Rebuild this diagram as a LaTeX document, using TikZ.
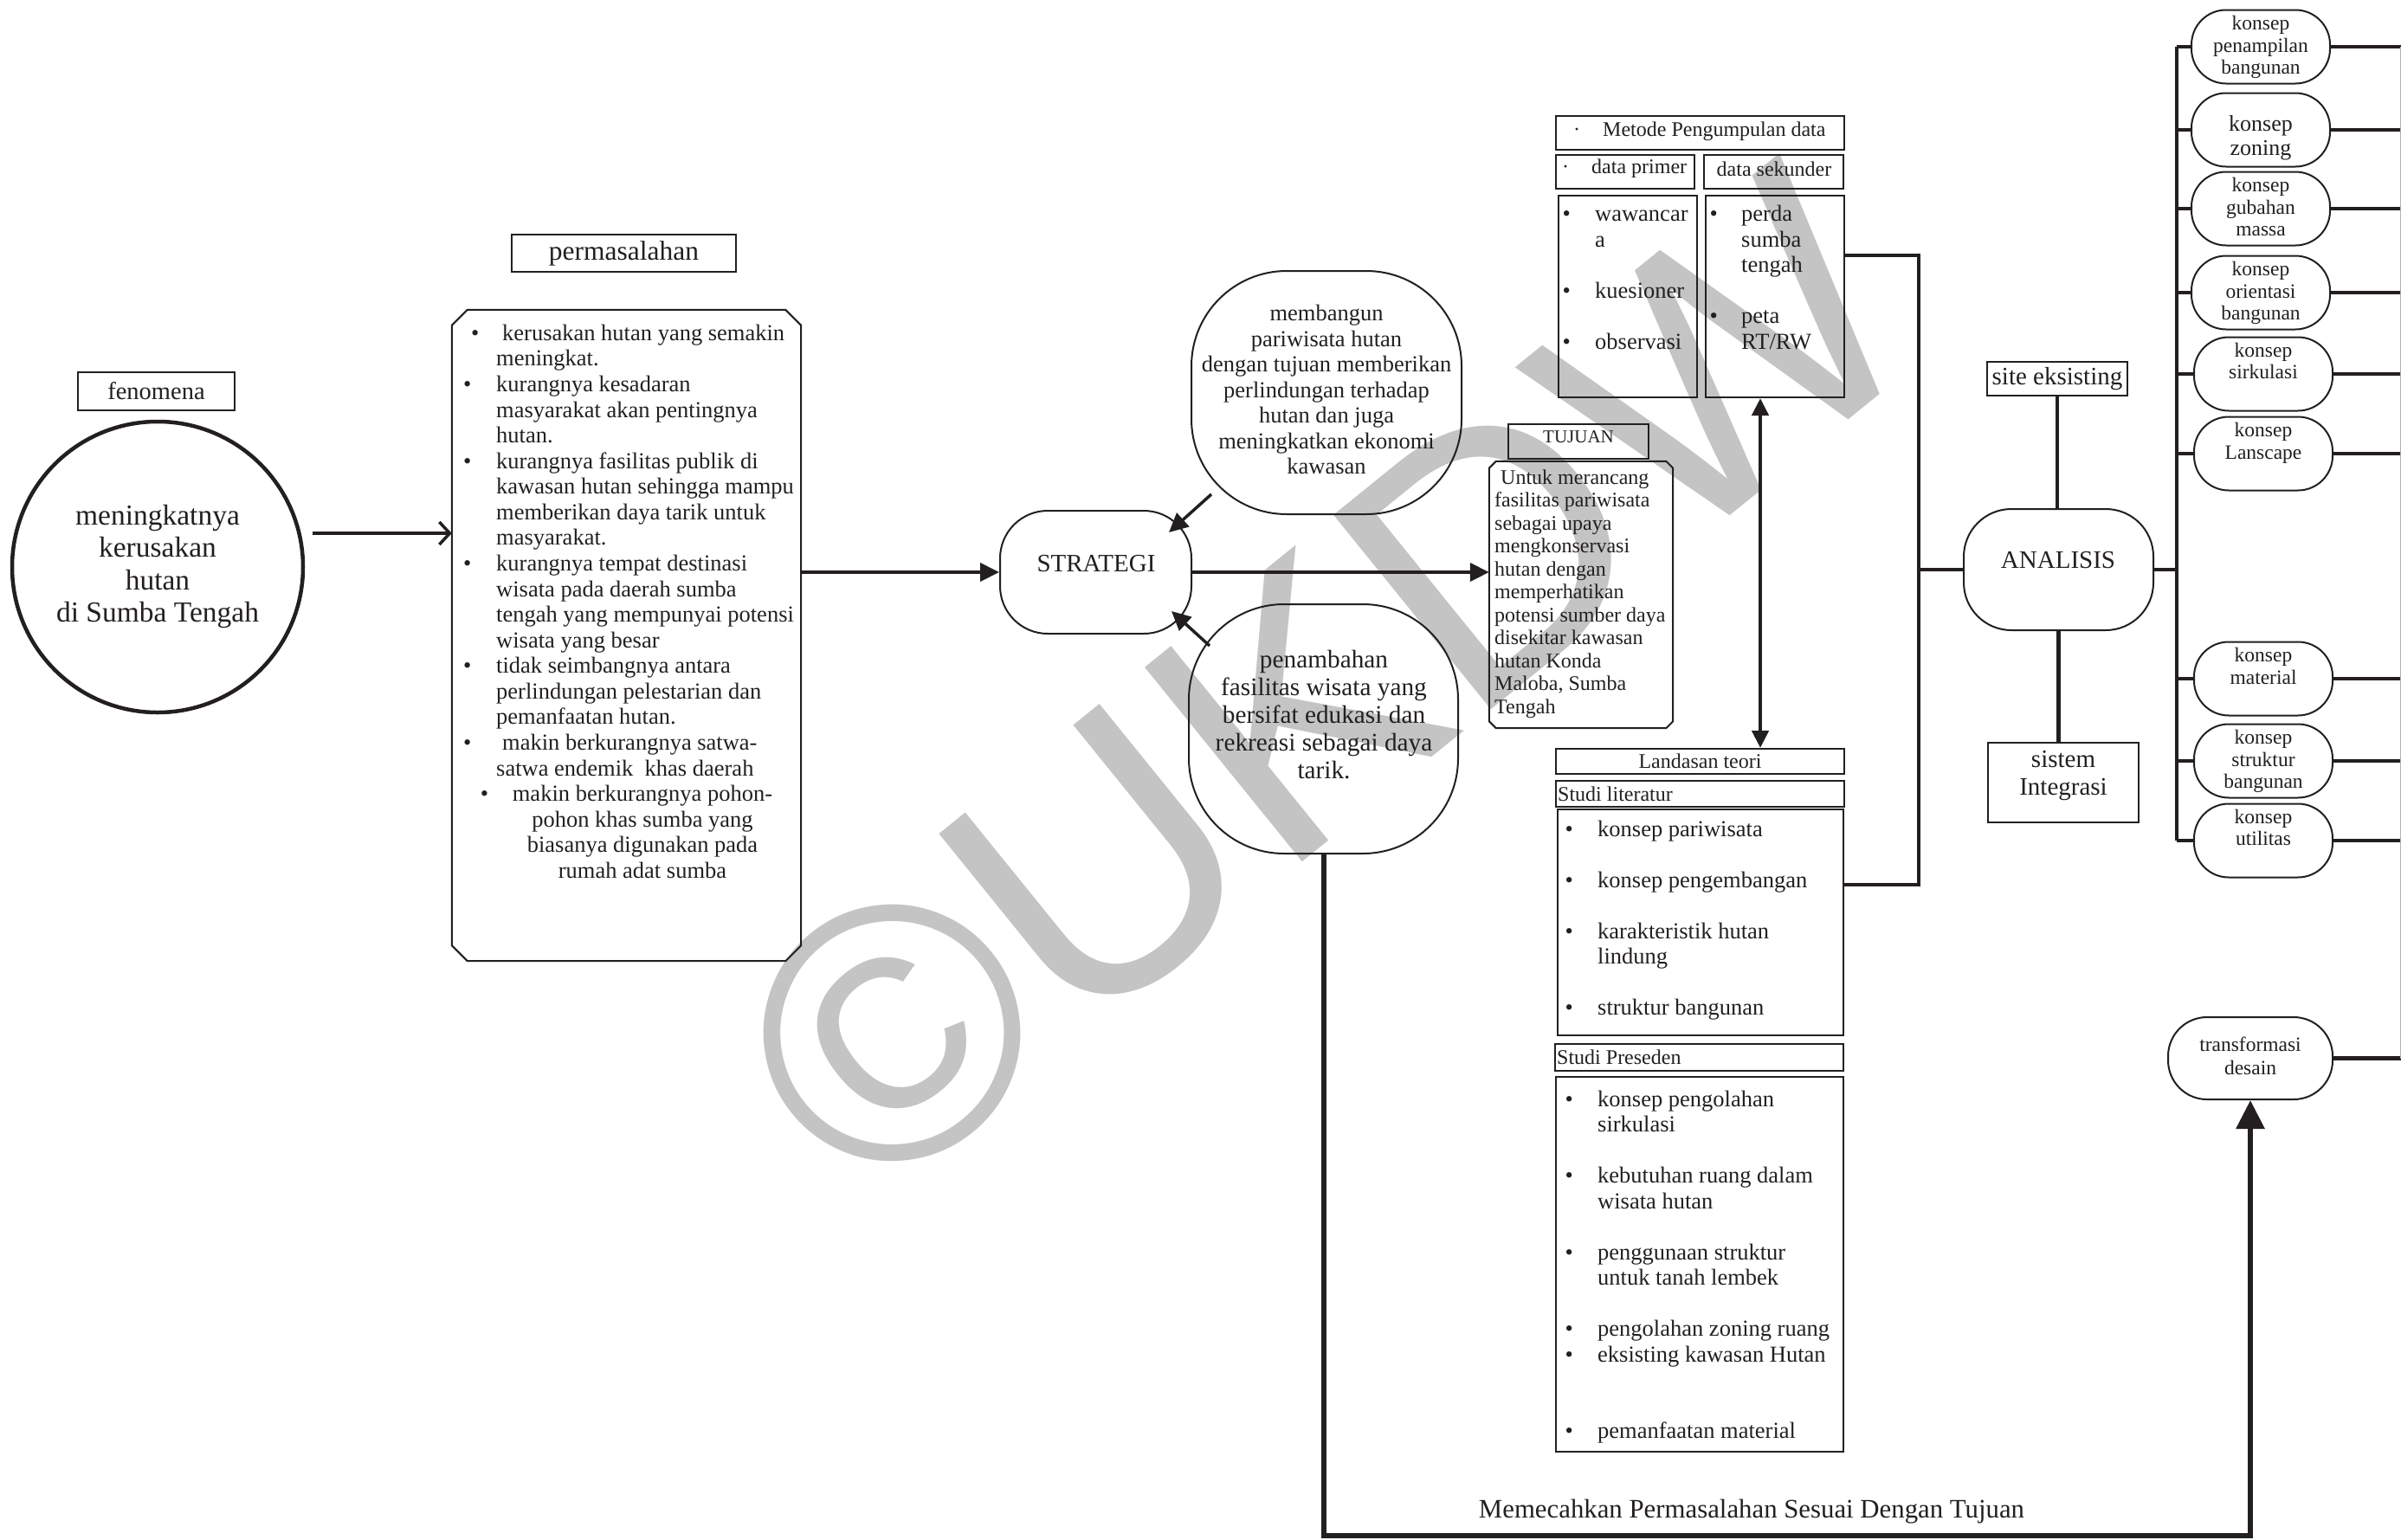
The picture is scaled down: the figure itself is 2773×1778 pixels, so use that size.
\documentclass[tikz,border=0pt]{standalone}
\usepackage{fontspec}
\setmainfont{Liberation Serif}
\newfontfamily\wmfont{Liberation Sans}
\usetikzlibrary{arrows.meta,calc}
\newcommand\fs[2]{\fontsize{#1}{#2}\selectfont}
\newcommand\bul[1][37.6pt]{\makebox[#1][l]{\textbullet}}
\newcommand\hind[1][37.6pt]{\hspace*{#1}}
\definecolor{ink}{RGB}{35,31,32}
\definecolor{wm}{RGB}{196,196,196}
\newcommand\chambox[2]{%
  \draw[draw=ink,line width=2pt] ([xshift=#2pt]#1.north west) -- ([xshift=-#2pt]#1.north east) -- ([yshift=-#2pt]#1.north east) -- ([yshift=#2pt]#1.south east) -- ([xshift=-#2pt]#1.south east) -- ([xshift=#2pt]#1.south west) -- ([yshift=#2pt]#1.south west) -- ([yshift=-#2pt]#1.north west) -- cycle;}
\begin{document}
\begin{tikzpicture}[x=1pt,y=-1pt,
  wh/.style 2 args={minimum width=#1pt,minimum height=#2pt},
  box/.style={draw=ink,line width=2pt,inner sep=0pt,rectangle,text=ink},
  rbox/.style={draw=ink,line width=2pt,inner sep=0pt,rectangle,rounded corners=#1},
  txt/.style={inner sep=0pt,text=ink},
  heavy/.style={draw=ink,line width=4.5pt},
  tri/.style={-{Triangle[length=22pt,width=21pt]}},
]
\useasboundingbox (0,0) rectangle (2773,1778);
% watermark
\node[font=\wmfont\fontsize{420}{420}\selectfont,text=wm,rotate=39,inner sep=0pt] (wmk) at (1529,790) {©UKDW};

% fenomena
\node[box,wh={181}{44},font=\fs{28.5}{32}] (fen) at (180.5,452) {fenomena};
\node[circle,draw=ink,line width=4.5pt,minimum size=336pt,inner sep=0pt,align=center,text=ink,font=\fs{33.5}{37.6}] (circ) at (182,655) {\strut meningkatnya\\kerusakan\\hutan\\di Sumba Tengah\strut};

% permasalahan
\node[box,wh={259}{43},font=\fs{31.5}{35}] (plab) at (720.5,292.5) {permasalahan};
\node[inner sep=0pt,wh={403}{752}] (perm) at (723.5,734) {};
\chambox{perm}{18}
\node[txt,anchor=north west,align=left,font=\fs{26.5}{29.57}] (permtx) at (535,372.5) {%
\hspace*{9pt}\bul[36pt]\strut kerusakan hutan yang semakin\\
\hind[38pt]meningkat.\\
\bul[38pt]kurangnya kesadaran\\
\hind[38pt]masyarakat akan pentingnya\\
\hind[38pt]hutan.\\
\bul[38pt]kurangnya fasilitas publik di\\
\hind[38pt]kawasan hutan sehingga mampu\\
\hind[38pt]memberikan daya tarik untuk\\
\hind[38pt]masyarakat.\\
\bul[38pt]kurangnya tempat destinasi\\
\hind[38pt]wisata pada daerah sumba\\
\hind[38pt]tengah yang mempunyai potensi\\
\hind[38pt]wisata yang besar\\
\bul[38pt]tidak seimbangnya antara\\
\hind[38pt]perlindungan pelestarian dan\\
\hind[38pt]pemanfaatan hutan.\\
\bul[45pt]makin berkurangnya satwa-\\
\hind[38pt]satwa endemik\ \ khas daerah};
\node[txt,anchor=north,align=center,font=\fs{26.5}{29.57}] (permtx2) at (742,904.8) {\llap{\makebox[37pt][l]{\textbullet}}\strut makin berkurangnya pohon-\\pohon khas sumba yang\\biasanya digunakan pada\\rumah adat sumba};

\coordinate (a1) at (361,616);
\draw[ink,line width=3.5pt,-{Straight Barb[length=12pt,width=26pt]}] (a1) -- (a1 -| perm.west);

% strategi
\node[rbox=55pt,wh={221}{142}] (str) at (1265.5,661) {};
\node[txt,font=\fs{29}{32}] (strT) at (1266,651) {STRATEGI};
\node[rbox=110pt,wh={312}{281},align=center,text=ink,font=\fs{26.5}{29.5}] (mem) at (1532,453.5) {\strut membangun\\pariwisata hutan\\dengan tujuan memberikan\\perlindungan terhadap\\hutan dan juga\\meningkatkan ekonomi\\kawasan\strut};
\node[rbox=110pt,wh={311}{288}] (pen) at (1528.5,842) {};
\node[txt,align=center,font=\fs{29.3}{32}] (penT) at (1529,829) {\strut penambahan\\fasilitas wisata yang\\bersifat edukasi dan\\rekreasi sebagai daya\\tarik.\strut};

\draw[heavy,line width=4pt,tri] (str.west -| perm.east) -- (str.west);
\draw[heavy,line width=3.5pt,tri] ([shift={(24,-24)}]mem.south west) -- ([shift={(-27,26)}]str.north east);
\draw[heavy,line width=3.5pt,tri] ([shift={(25,49)}]pen.north west) -- ([shift={(-24,-27)}]str.south east);

% tujuan
\node[box,wh={162}{40}] (tujl) at (1823,510) {};
\node[txt,font=\fs{21}{24}] (tujlT) at (1823,505) {TUJUAN};
\node[inner sep=0pt,wh={212}{308}] (tuj) at (1826,687) {};
\chambox{tuj}{8}
\node[txt,anchor=north west,align=left,font=\fs{24}{26.5}] (tujT) at (1726,540.5) {%
\hspace*{7pt}\strut Untuk merancang\\fasilitas pariwisata\\sebagai upaya\\mengkonservasi\\hutan dengan\\memperhatikan\\potensi sumber daya\\disekitar kawasan\\hutan Konda\\Maloba, Sumba\\Tengah};
\draw[heavy,line width=4pt,tri] (str.east) -- (str.east -| tuj.west);

% metode
\node[box,wh={333}{39}] (met) at (1963.5,153.5) {};
\node[txt,anchor=west,font=\fs{24}{27}] (metT) at (1817,152) {\makebox[34pt][l]{\textperiodcentered}Metode Pengumpulan data};
\node[box,wh={160}{39}] (dp) at (1877,198.5) {};
\node[txt,anchor=west,font=\fs{24}{27}] (dpT) at (1804,195) {\makebox[34pt][l]{\textperiodcentered}data primer};
\node[box,wh={161}{39}] (ds) at (2048.5,198.5) {};
\node[txt,font=\fs{24}{27}] (dsT) at (2049,195) {data sekunder};
\node[box,wh={160}{233}] (primc) at (1880,342.5) {};
\node[txt,anchor=north west,align=left,font=\fs{26.5}{29.5}] (primT) at (1804.5,235) {%
\bul[37.5pt]\strut wawancar\\\hind[37.5pt]a\\\mbox{}\\\bul[37.5pt]kuesioner\\\mbox{}\\\bul[37.5pt]observasi};
\node[box,wh={160}{233}] (sekc) at (2050,342.5) {};
\node[txt,anchor=north west,align=left,font=\fs{26.5}{29.5}] (sekT) at (1974.5,235) {%
\bul[36.5pt]\strut perda\\\hind[36.5pt]sumba\\\hind[36.5pt]tengah\\\mbox{}\\\bul[36.5pt]peta\\\hind[36.5pt]RT/RW};

% landasan
\node[box,wh={333}{29},font=\fs{24}{27}] (land) at (1963.5,879.5) {Landasan teori};
\coordinate (dx) at (2033,0);
\draw[ink,line width=4.5pt,{Triangle[length=20pt,width=19pt]}-{Triangle[length=20pt,width=19pt]}] (sekc.south -| dx) -- (land.north -| dx);
\node[box,wh={333}{30}] (litl) at (1963.5,917) {};
\node[txt,anchor=west,font=\fs{24}{27}] (litlT) at (1799,917) {Studi literatur};
\node[box,wh={330}{261}] (litc) at (1964,1065.5) {};
\node[txt,anchor=north west,align=left,font=\fs{26.5}{29.5}] (litT) at (1807.4,945.5) {%
\bul\strut konsep pariwisata\\\mbox{}\\\bul konsep pengembangan\\\mbox{}\\\bul karakteristik hutan\\\hind lindung\\\mbox{}\\\bul struktur bangunan};
\node[box,wh={333}{31}] (presl) at (1962.5,1221.5) {};
\node[txt,anchor=west,font=\fs{24}{27}] (preslT) at (1798,1221) {Studi Preseden};
\node[box,wh={332}{433}] (presc) at (1963,1460.5) {};
\node[txt,anchor=north west,align=left,font=\fs{26.5}{29.5}] (presT) at (1807.4,1257.6) {%
\bul\strut konsep pengolahan\\\hind sirkulasi\\\mbox{}\\\bul kebutuhan ruang dalam\\\hind wisata hutan\\\mbox{}\\\bul penggunaan struktur\\\hind untuk tanah lembek\\\mbox{}\\\bul pengolahan zoning ruang\\\bul eksisting kawasan Hutan\\\mbox{}\\\mbox{}\\\bul pemanfaatan material};

% analisis
\node[rbox=55pt,wh={219}{140}] (ana) at (2377.5,658) {};
\node[txt,font=\fs{29}{32}] (anaT) at (2377,647) {ANALISIS};
\node[box,wh={162}{39},font=\fs{29}{32}] (site) at (2376,437.5) {site eksisting};
\node[box,wh={174}{92}] (sis) at (2383,904) {};
\node[txt,align=center,font=\fs{29}{32}] (sisT) at (2383,896) {\strut sistem\\Integrasi\strut};
\coordinate (j1) at (2216,295);
\coordinate (j2) at (2216,1022);
\coordinate (j3) at (2216,658);
\draw[heavy] (j1 -| sekc.east) -- (j1) -- (j2) -- (j2 -| litc.east);
\draw[heavy] (j3) -- (ana.west);
\draw[heavy] (site.south) -- (site.south |- ana.north);
\draw[heavy] (ana.south) -- (ana.south |- sis.north);

% konsep
\coordinate (bar) at (2514,0);
\coordinate (edge) at (2773,0);
\foreach \i/\yy/\xx in {1/54/2611,2/150/2611,3/241/2611,4/338/2611,5/432/2614,6/524/2614,7/784/2614,8/879/2614,9/971/2614}
  \node[rbox=40pt,wh={160}{85}] (k\i) at (\xx,\yy) {};
\begin{scope}[every node/.style={txt,align=center,font=\fs{23.5}{25.5}}]
\node (t1) at (2611,55) {\strut konsep\\penampilan\\bangunan\strut};
\node[font=\fs{26}{28}] (t2) at (2611,160) {\strut konsep\\zoning\strut};
\node (t3) at (2611,242) {\strut konsep\\gubahan\\massa\strut};
\node (t4) at (2611,339) {\strut konsep\\orientasi\\bangunan\strut};
\node (t5) at (2614,420) {\strut konsep\\sirkulasi\strut};
\node (t6) at (2614,512.5) {\strut konsep\\Lanscape\strut};
\node (t7) at (2614,772.5) {\strut konsep\\material\strut};
\node (t8) at (2614,880) {\strut konsep\\struktur\\bangunan\strut};
\node (t9) at (2614,959) {\strut konsep\\utilitas\strut};
\end{scope}
\draw[heavy] (ana.east) -- (ana.east -| bar);
\draw[heavy] (k1.west -| bar) -- (k9.west -| bar);
\foreach \i in {1,...,9} {
  \draw[heavy] (k\i.west -| bar) -- (k\i.west);
  \draw[heavy] (k\i.east) -- (k\i.east -| edge);
}

% transformasi
\node[rbox=45pt,wh={190}{95}] (tr) at (2599,1222.5) {};
\node[txt,align=center,font=\fs{23.5}{27}] (trT) at (2599,1222.5) {\strut transformasi\\desain\strut};
\draw[heavy] (tr.east) -- (tr.east -| edge);
\draw[gray!60,line width=2pt] (k1.east -| edge) -- (tr.east -| edge);

% bottom loop
\coordinate (bot) at (0,1774);
\draw[heavy,line width=6pt,-{Triangle[length=33pt,width=32pt]}] (pen.south) -- (pen.south |- bot) -- (tr.south |- bot) -- (tr.south);
\node[txt,font=\fs{30.8}{34}] (botl) at (2023,1746) {Memecahkan Permasalahan Sesuai Dengan Tujuan};
\end{tikzpicture}
\end{document}
